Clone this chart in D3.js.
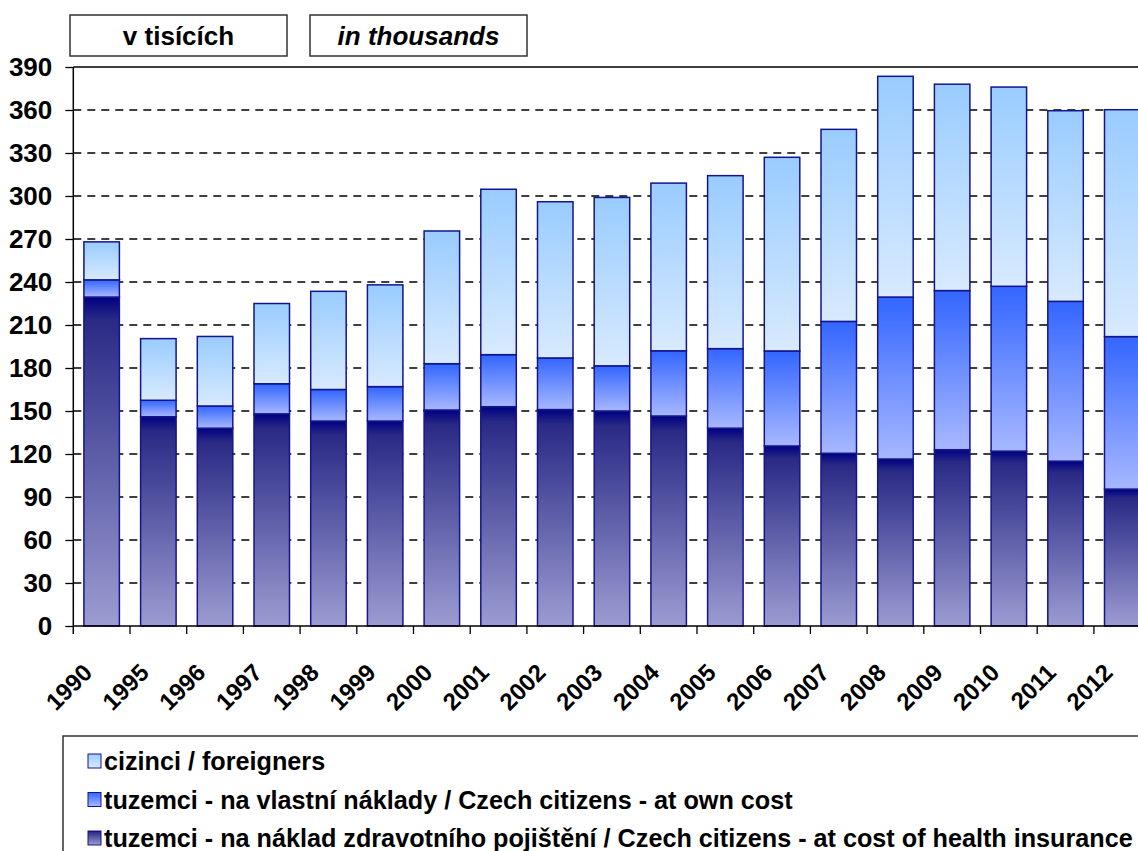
<!DOCTYPE html>
<html>
<head>
<meta charset="utf-8">
<script src="https://cdn.jsdelivr.net/npm/d3@7"></script>
<style>
  body { margin: 0; background: #fff; }
  svg { display: block; font-family: "Liberation Sans", Arial, sans-serif; font-weight: bold; }
</style>
</head>
<body>
<div id="chart"></div>
<script>
// Values (thousands)
var years = ['1990','1995','1996','1997','1998','1999','2000','2001','2002','2003','2004','2005','2006','2007','2008','2009','2010','2011','2012']
var health = [229.5,146,138,148,143,143,150.7,153,151,150,146.5,138,125.6,120.5,116.5,123,122,115,95.5]
var ownCost = [12,11.5,15.5,21,22,24,32.3,36.3,36,31.5,45.5,55.5,66.3,92,113,111,115,111.5,106.4]
var foreigners = [26.5,43,48.5,56,68.5,71,92.6,115.4,109,117.5,117,120.7,135.1,134,154,144,139,133,158.3]
var yTicks = [0,30,60,90,120,150,180,210,240,270,300,330,360,390]
var seriesKeys = ['health','own','foreign']
var legendLabels = [
  'cizinci / foreigners',
  'tuzemci - na vlastní náklady / Czech citizens - at own cost',
  'tuzemci - na náklad zdravotního pojištění / Czech citizens - at cost of health insurance'
]
var headerLabels = ['v tisících', 'in thousands']

var width = 1138, height = 851
var plotLeft = 73.3, plotTop = 67, plotBottom = 626
var step = 56.7
var plotRight = plotLeft + step * years.length

var svg = d3.select('#chart').append('svg')
    .attr('width', width)
    .attr('height', height)

// gradients, one per series
var defs = svg.append('defs')
var grads = {
  health: [[0,'#000080'],[0.07,'#2a2a86'],[1,'#9c9cd2']],
  own: [[0,'#3366ff'],[1,'#a8b8ff']],
  foreign: [[0,'#99ccff'],[1,'#d8eaff']]
}
Object.keys(grads).forEach(function (k) {
  var g = defs.append('linearGradient')
      .attr('id', 'g-' + k)
      .attr('x1', 0).attr('y1', 0).attr('x2', 0).attr('y2', 1)
  grads[k].forEach(function (s) {
    g.append('stop').attr('offset', s[0]).attr('stop-color', s[1])
  })
})

var rows = years.map(function (y, i) {
  return { year: y, health: health[i], own: ownCost[i], foreign: foreigners[i] }
})

var x = d3.scaleBand()
    .domain(years)
    .range([plotLeft, plotRight])
    .paddingInner(0.374)
    .paddingOuter(0.187)

var y = d3.scaleLinear()
    .domain([0, 390])
    .range([plotBottom, plotTop])

// grid lines
svg.append('g')
  .selectAll('line')
  .data(yTicks.filter(function (d) { return d > 0 }))
  .enter().append('line')
    .attr('x1', plotLeft).attr('x2', width)
    .attr('y1', function (d) { return y(d) }).attr('y2', function (d) { return y(d) })
    .attr('stroke', '#000')
    .attr('stroke-width', 1.3)
    .attr('stroke-dasharray', function (d) { return d === 390 ? null : '8,6' })

// stacked bars
var stack = d3.stack().keys(seriesKeys)(rows)
svg.append('g')
  .selectAll('g')
  .data(stack)
  .enter().append('g')
    .attr('fill', function (s) { return 'url(#g-' + s.key + ')' })
  .selectAll('rect')
  .data(function (s) { return s })
  .enter().append('rect')
    .attr('x', function (d) { return x(d.data.year) })
    .attr('width', x.bandwidth())
    .attr('y', function (d) { return y(d[1]) })
    .attr('height', function (d) { return y(d[0]) - y(d[1]) })
    .attr('stroke', '#14148c')
    .attr('stroke-width', 1.5)

// y axis
var yAxis = svg.append('g')
    .attr('transform', 'translate(' + plotLeft + ',0)')
    .call(d3.axisLeft(y).tickValues(yTicks).tickSize(8).tickPadding(13))
yAxis.select('.domain').attr('d', 'M0,' + plotTop + 'V' + (plotBottom + 8)).attr('stroke-width', 1.5)
yAxis.selectAll('.tick line').attr('stroke-width', 1.3)
yAxis.selectAll('text')
    .attr('font-size', 26)
    .attr('font-weight', 'bold')
    .attr('font-family', '"Liberation Sans", Arial, sans-serif')
    .attr('fill', '#000')

// x axis
svg.append('line')
    .attr('x1', plotLeft).attr('x2', width)
    .attr('y1', plotBottom).attr('y2', plotBottom)
    .attr('stroke', '#000').attr('stroke-width', 1.5)
svg.append('g')
  .selectAll('line')
  .data(years.slice(1))
  .enter().append('line')
    .attr('x1', function (d) { return x(d) - x.step() * x.paddingInner() / 2 })
    .attr('x2', function (d) { return x(d) - x.step() * x.paddingInner() / 2 })
    .attr('y1', plotBottom).attr('y2', plotBottom + 8)
    .attr('stroke', '#000').attr('stroke-width', 1.3)
svg.append('g')
  .selectAll('text')
  .data(years)
  .enter().append('text')
    .attr('transform', function (d) {
      return 'translate(' + (x(d) + x.bandwidth() / 2 - 8) + ',' + (plotBottom + 48) + ') rotate(-45)'
    })
    .attr('text-anchor', 'end')
    .attr('font-size', 24)
    .text(function (d) { return d })

// header boxes
var hb = svg.append('g')
  .selectAll('g')
  .data(headerLabels)
  .enter().append('g')
    .attr('transform', function (d, i) { return 'translate(' + (70 + i * 240) + ',15)' })
hb.append('rect')
    .attr('width', 217).attr('height', 41)
    .attr('fill', '#fff').attr('stroke', '#333').attr('stroke-width', 1.5)
hb.append('text')
    .attr('x', 108.5).attr('y', 29.5)
    .attr('text-anchor', 'middle')
    .attr('font-size', 26)
    .attr('font-style', function (d, i) { return i === 1 ? 'italic' : null })
    .text(function (d) { return d })

// legend
svg.append('rect')
    .attr('x', 63).attr('y', 736)
    .attr('width', 1100).attr('height', 140)
    .attr('fill', '#fff').attr('stroke', '#333').attr('stroke-width', 1.5)
var legendKeys = ['foreign', 'own', 'health']
var lg = svg.append('g')
  .selectAll('g')
  .data(legendLabels)
  .enter().append('g')
    .attr('transform', function (d, i) { return 'translate(88,' + (761 + i * 38.5) + ')' })
lg.append('rect')
    .attr('x', 0).attr('y', -7).attr('width', 13).attr('height', 14)
    .attr('fill', function (d, i) { return 'url(#g-' + legendKeys[i] + ')' })
    .attr('stroke', '#14148c').attr('stroke-width', 1)
lg.append('text')
    .attr('x', 16).attr('y', 9)
    .attr('font-size', 25.2)
    .text(function (d) { return d })
</script>
</body>
</html>
